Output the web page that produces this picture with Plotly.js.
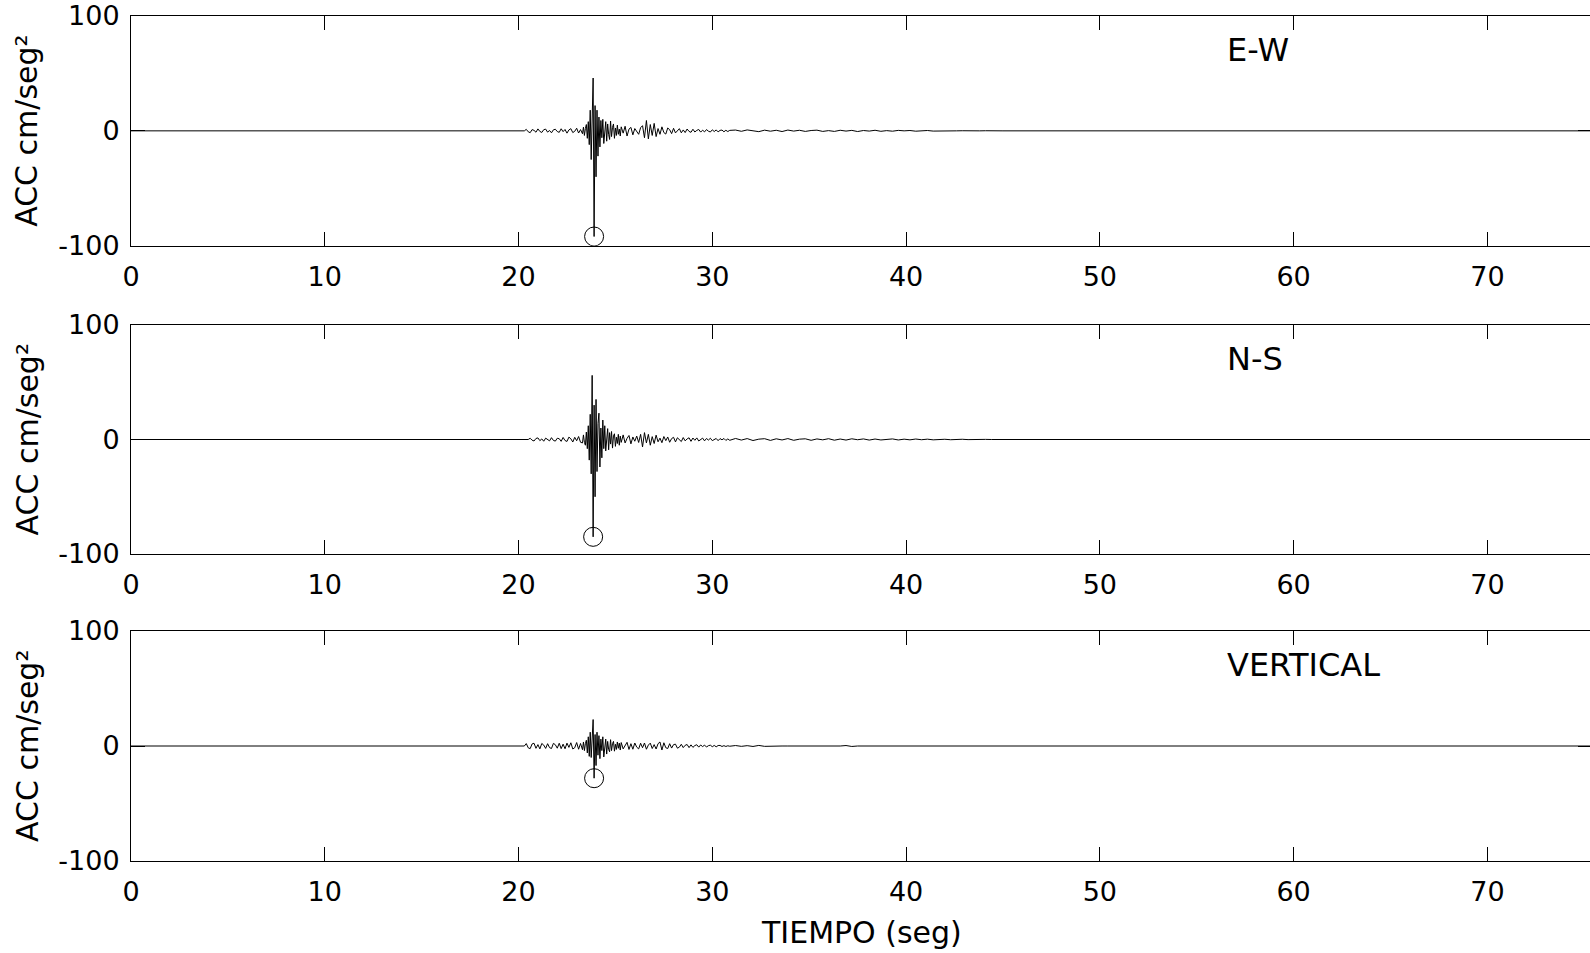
<!DOCTYPE html>
<html>
<head>
<meta charset="utf-8">
<script src="https://cdn.plot.ly/plotly-3.0.1.min.js"></script>
<style>
  html, body { margin: 0; padding: 0; overflow: hidden; background: #fff; }
  #chart { width: 1594px; height: 953px; }
</style>
</head>
<body>
<div id="chart"></div>
<script>
// ---------------- DATA ----------------
const componentNames = ["E-W", "N-S", "VERTICAL"];
const yTitle = "ACC cm/seg\u00b2";
const xTitle = "TIEMPO (seg)";
const xTickVals = [0, 10, 20, 30, 40, 50, 60, 70];
const yTickVals = [-100, 0, 100];
const recordStart = 0;      // s
const recordEnd = 80;       // s

// sampling of the digitised windows (s)
const preStep = 0.1;        // pre-event noise, up to 23.2 s
const mainStart = 23.3, mainStep = 0.05;   // strong motion 23.30 - 25.25 s
const postStart = 25.3, postStep = 0.1;    // 25.3 - 30.9 s
const codaStart = 31.2, codaStep = 0.3;    // 31.2 - 45.0 s

// ---- E-W ----
const ewPreStart = 20.3;
const ewPre = [
  0, 1.3, -0.8, -1.6, 1.1, 0.4, -1.2, 1.7, -0.5, -1.4,
  1.0, 1.5, -1.1, 0.3, -1.7, 0.9, 1.4, -0.6, -1.3, 1.8,
  -0.7, 1.2, -2.0, 0.8, 1.9, -1.5, -0.4, 2.3, -1.9, 1.1
];
const ewMain = [
  -2.5, 3.2, -4.0, 2.0, 5.5, -6.5, 8.0, -12.0, 18.0, -25.0,
  30.0, 46.0, -92.0, 22.0, -40.0, 18.0, -22.0, 12.0, -14.0, 9.0,
  -6.0, 10.0, -11.0, 4.0, 8.0, -9.0, 6.0, -3.0, -7.5, 8.5,
  -5.0, 3.0, 6.0, -6.5, 2.5, -4.0, 5.0, -3.0, 1.5, -4.5
];
const ewPost = [
  3.5, -2.0, 4.0, -4.5, 1.5, 3.0, -3.5, 2.0, -1.0, -3.0,
  2.8, 4.5, -6.0, 9.0, -7.0, 5.5, -4.0, 6.5, -5.0, 2.0,
  -3.0, 3.5, -1.5, -2.8, 2.5, 1.0, -2.4, 2.2, -1.8, 0.6,
  1.9, -1.7, 0.8, -1.5, 1.6, -0.5, -1.3, 1.4, -1.0, 0.4,
  1.2, -1.1, 0.6, -0.9, 1.1, -0.3, -1.0, 0.9, -0.6, 0.8,
  -0.9, 0.4, 0.7, -0.8, 0.5, -0.6, 0.4
];
const ewCoda = [
  0.7, -0.4, 0.8, 0.2, -0.7, 0.6, -0.3, 0.5, -0.6, 0.7,
  -0.2, 0.5, -0.5, 0.3, 0.6, -0.5, 0.2, -0.5, 0.5, -0.2,
  0.4, -0.6, 0.3, -0.2, 0.5, -0.4, 0.2, -0.3, 0.4, 0,
  0.3, -0.3, 0, 0.3, -0.2, 0, 0.2, -0.2, 0, 0.1,
  -0.1, 0, 0, 0.1, 0, 0, 0
];

// ---- N-S ----
const nsPreStart = 20.5;
const nsPre = [
  0, 1.1, -0.6, -1.3, 0.9, 1.4, -1.0, 0.5, -1.5, 1.2,
  0.3, -1.2, 1.6, -0.8, -1.4, 1.1, 0.7, -1.6, 1.8, -0.9,
  -1.7, 2.1, 0.6, -2.2, 1.9, -1.1, 2.6, -2.4
];
const nsMain = [
  -3.0, 4.0, -2.5, -5.0, 6.5, -8.0, 12.0, -18.0, 22.0, -30.0,
  56.0, -85.0, 30.0, -50.0, 35.0, -28.0, 14.0, 23.0, -24.0, 10.0,
  -16.0, 17.0, -8.0, 12.0, -10.0, 4.0, 9.5, -9.0, 6.0, -4.0,
  7.0, -7.5, 3.0, 5.0, -6.0, 2.0, -3.5, 4.5, -5.0, 3.0
];
const nsPost = [
  -2.5, 4.0, -3.0, 1.0, 3.5, -3.8, 2.2, -1.5, 3.0, -2.6,
  4.5, -6.5, 6.0, -3.0, 4.5, -5.0, 2.5, -3.5, 3.8, -2.0,
  1.2, -2.8, 2.6, -1.0, 2.2, -2.4, 0.8, 1.9, -2.1, 1.5,
  -0.6, -1.8, 1.7, -1.2, 0.5, 1.5, -1.6, 1.3, -0.7, 1.4,
  -1.3, 0.4, 1.2, -1.2, 0.9, -0.5, 1.1, -1.0, 0.3, 0.9,
  -1.0, 0.8, -0.3, 0.9, -0.8, 0.5, -0.7
];
const nsCoda = [
  0.9, -0.5, 0.8, -0.9, 0.3, 0.7, -0.8, 0.6, -0.4, 0.8,
  -0.7, 0.3, 0.6, -0.7, 0.5, -0.3, 0.7, -0.6, 0.4, -0.5,
  0.6, -0.2, 0.5, -0.5, 0.4, -0.4, 0.2, 0.5, -0.4, 0.3,
  -0.3, 0.4, -0.2, 0.3, -0.3, 0.1, 0.2, -0.2, 0.1, 0.2,
  -0.1, 0.1, 0, 0.1, 0, 0, 0
];

// ---- VERTICAL ----
const vPreStart = 20.3;
const vPre = [
  0, 2.1, -1.6, -2.3, 1.8, 2.4, -2.0, 1.2, -2.5, 2.2,
  0.8, -2.1, 2.0, -1.4, -2.2, 2.3, 1.1, -1.9, 2.4, -2.3,
  1.6, -2.4, 2.5, -1.2, 2.8, -2.6, -1.5, 3.0, -2.8, 2.2
];
const vMain = [
  -3.2, 3.5, -4.0, 2.0, 5.0, -6.0, 8.0, -9.0, 12.0, -10.0,
  16.0, 23.0, -28.0, 10.0, -17.0, 12.0, -8.0, 9.0, -11.0, 6.0,
  -4.0, 8.0, -9.5, 3.0, 6.0, -7.0, 4.0, -3.0, -5.0, 5.5,
  -4.0, 2.0, 4.0, -4.5, 1.5, -3.0, 3.5, -2.0, 2.5, -3.5
];
const vPost = [
  3.0, -2.5, 1.0, 3.2, -3.0, 2.0, -2.8, 2.6, -1.0, -2.5,
  2.4, -1.5, 2.6, -2.8, 0.8, 2.5, -2.2, 1.2, -2.6, 2.0,
  3.5, -3.5, 2.8, -1.5, -2.2, 2.0, -1.8, 1.2, 1.6, -1.9,
  -1.0, 1.5, -1.4, 0.6, 1.3, -1.4, 1.0, -1.2, 0.4, 1.1,
  -1.0, 0.9, -0.5, 0.8, -0.9, 0.3, 0.7, -0.6, 0.5, -0.7,
  0.4, 0.5, -0.4, 0.3, -0.4, 0.2, -0.2
];
const vCoda = [
  0.4, -0.3, 0.3, -0.4, 0.5, -0.3, 0, 0, 0, 0,
  0, 0.3, -0.3, 0.3, -0.2, 0.3, -0.2, 0, 0, 0.4,
  -0.4, 0, 0, 0, 0, 0, 0, 0, 0, 0,
  0, 0, 0, 0, 0, 0, 0, 0, 0, 0,
  0, 0, 0, 0, 0, 0, 0
];

// ---------------- BUILD ----------------
const W = 1594, H = 953;
const fontFam = "DejaVu Sans, Liberation Sans, Arial, sans-serif";

function buildTrace(preStart, pre, main, post, coda) {
  const t = [recordStart], a = [0];
  const add = (start, step, vals) => vals.forEach((v, i) => {
    t.push(+(start + i * step).toFixed(3)); a.push(v);
  });
  add(preStart, preStep, pre);
  add(mainStart, mainStep, main);
  add(postStart, postStep, post);
  add(codaStart, codaStep, coda);
  t.push(recordEnd); a.push(0);
  return { t, a };
}
const comps = [
  buildTrace(ewPreStart, ewPre, ewMain, ewPost, ewCoda),
  buildTrace(nsPreStart, nsPre, nsMain, nsPost, nsCoda),
  buildTrace(vPreStart, vPre, vMain, vPost, vCoda)
];

// panel pixel boxes (top, bottom) in the page
const panelPx = [[16, 245.7], [325, 554], [631, 861]];
const xLeftPx = 131, xRightPx = 1592;

const data = [];
const annotations = [];
const layout = {
  width: W, height: H,
  margin: { l: 0, r: 0, t: 0, b: 0, pad: 0 },
  paper_bgcolor: "#ffffff", plot_bgcolor: "#ffffff",
  showlegend: false,
  font: { family: fontFam, size: 27, color: "#000" },
  annotations: annotations
};

comps.forEach((c, k) => {
  const n = k + 1;
  const xa = n === 1 ? "x" : "x" + n;
  const ya = n === 1 ? "y" : "y" + n;
  data.push({
    type: "scatter", mode: "lines", x: c.t, y: c.a, xaxis: xa, yaxis: ya,
    line: { color: "#000", width: 1 }, hoverinfo: "skip"
  });
  // peak (minimum) marker, located from the data itself
  let mi = 0;
  c.a.forEach((v, i) => { if (v < c.a[mi]) mi = i; });
  data.push({
    type: "scatter", mode: "markers", x: [c.t[mi]], y: [c.a[mi]], xaxis: xa, yaxis: ya,
    marker: { symbol: "circle-open", size: 19, color: "#000", line: { width: 1, color: "#000" } },
    hoverinfo: "skip"
  });
  const [top, bot] = panelPx[k];
  const common = {
    showline: true, linecolor: "#000", linewidth: 1, mirror: "ticks",
    ticks: "inside", ticklen: 14, tickwidth: 1, tickcolor: "#000",
    showgrid: false, zeroline: false, fixedrange: true,
    tickfont: { family: fontFam, size: 27, color: "#000" }
  };
  layout["xaxis" + (n === 1 ? "" : n)] = Object.assign({}, common, {
    domain: [xLeftPx / W, xRightPx / W], range: [0, 75.4], anchor: ya,
    tickmode: "array", tickvals: xTickVals, ticktext: xTickVals.map(String),
    ticklabelstandoff: 7
  });
  layout["yaxis" + (n === 1 ? "" : n)] = Object.assign({}, common, {
    domain: [(H - bot) / H, (H - top) / H], range: [-100, 100], anchor: xa,
    tickmode: "array", tickvals: yTickVals, ticktext: yTickVals.map(String),
    ticklabelstandoff: 5
  });
  // component label
  annotations.push({
    xref: xa, yref: ya, x: 56.45, y: 70, text: componentNames[k],
    showarrow: false, xanchor: "left", yanchor: "middle",
    font: { family: fontFam, size: 32, color: "#000" }
  });
  // y-axis title
  annotations.push({
    xref: "paper", yref: "paper", x: 27 / W, y: (H - (top + bot) / 2) / H,
    text: yTitle, textangle: -90, showarrow: false,
    xanchor: "center", yanchor: "middle",
    font: { family: fontFam, size: 30, color: "#000" }
  });
});

annotations.push({
  xref: "paper", yref: "paper", x: 861 / W, y: (H - 932) / H,
  text: xTitle, showarrow: false, xanchor: "center", yanchor: "middle",
  font: { family: fontFam, size: 30, color: "#000" }
});

Plotly.newPlot("chart", data, layout, { displayModeBar: false, staticPlot: true });
</script>
</body>
</html>
